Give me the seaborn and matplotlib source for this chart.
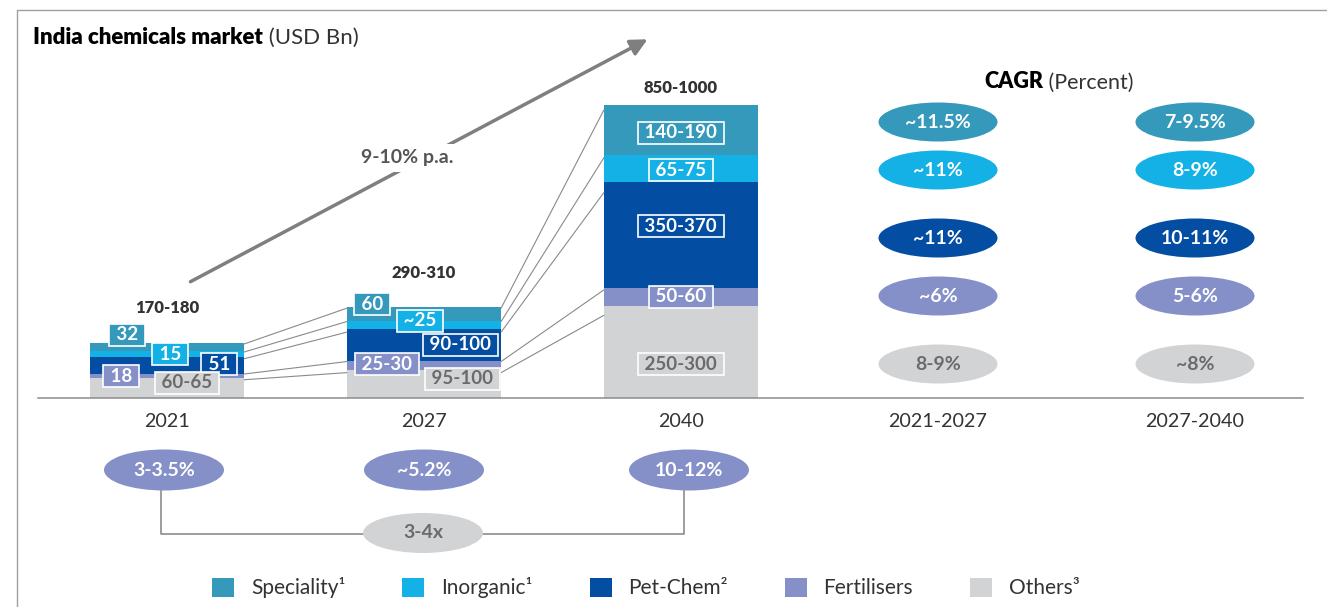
import pandas as pd
import matplotlib
matplotlib.use('Agg')
import matplotlib.pyplot as plt
import seaborn as sns
from matplotlib.patches import Ellipse, Patch

# data (USD Bn, segment heights)
years = ['2021', '2027', '2040']
periods = ['2021-2027', '2027-2040']
segments = ['Others', 'Fertilisers', 'Pet-Chem', 'Inorganic', 'Speciality']  # bottom -> top
others = [64, 89, 290]
fertilisers = [13, 29, 57]
petchem = [52, 100, 335]
inorganic = [18, 26, 85]
speciality = [26, 44, 158]
totals = ['170-180', '290-310', '850-1000']

speciality_lbl = ['32', '60', '140-190']
inorganic_lbl = ['15', '~25', '65-75']
petchem_lbl = ['51', '90-100', '350-370']
fertilisers_lbl = ['18', '25-30', '50-60']
others_lbl = ['60-65', '95-100', '250-300']

# CAGR rows: Speciality, Inorganic, Pet-Chem, Fertilisers, Others
cagr_21_27 = ['~11.5%', '~11%', '~11%', '~6%', '8-9%']
cagr_27_40 = ['7-9.5%', '8-9%', '10-11%', '5-6%', '~8%']
share_lbl = ['3-3.5%', '~5.2%', '10-12%']
multiple_lbl = '3-4x'
growth_lbl = '9-10% p.a.'
legend_lbl = ['Speciality¹', 'Inorganic¹', 'Pet-Chem²', 'Fertilisers', 'Others³']

colors = {'Speciality': '#3499ba', 'Inorganic': '#14b1e7', 'Pet-Chem': '#034ea2',
          'Fertilisers': '#8590c8', 'Others': '#d2d3d5'}
grey_txt = '#6b6b6b'

df = pd.DataFrame({'year': years, 'Others': others, 'Fertilisers': fertilisers,
                   'Pet-Chem': petchem, 'Inorganic': inorganic, 'Speciality': speciality})
cum = df[segments].cumsum(axis=1)
labels = {'Speciality': speciality_lbl, 'Inorganic': inorganic_lbl, 'Pet-Chem': petchem_lbl,
          'Fertilisers': fertilisers_lbl, 'Others': others_lbl}

sns.set_style('white')
plt.rcParams['font.family'] = ['Lato', 'DejaVu Sans']

W, H = 1327, 607
X0, DX = 167, 257      # pixel x of category 0, pixels per category
Y0, SC = 398, 0.3168   # pixel y of baseline, pixels per USD Bn


def px(x):
    return (x - X0) / DX


def py(y):
    return (Y0 - y) / SC


fig = plt.figure(figsize=(W / 100, H / 100), dpi=100)
ax = fig.add_axes([0, 0, 1, 1])

# stacked bars: draw cumulative heights from the top down
for seg in reversed(segments):
    sns.barplot(x=df['year'], y=cum[seg], order=years, color=colors[seg], width=0.6,
                saturation=1, linewidth=0, errorbar=None, ax=ax, zorder=1)

ax.set_xlim(px(0), px(W))
ax.set_ylim(py(H), py(0))
for s in ['top', 'left', 'right']:
    ax.spines[s].set_visible(False)
ax.spines['bottom'].set_position(('data', 0))
ax.spines['bottom'].set_bounds(px(38), px(1303))
ax.spines['bottom'].set_color('#8c8c8c')
ax.spines['bottom'].set_linewidth(1.1)
ax.set_xticks(range(5), years + periods)
ax.set_yticks([])
ax.tick_params(axis='x', length=0, pad=11, labelsize=14.2, labelcolor='#333333')
ax.set_xlabel('')
ax.set_ylabel('')

# connector lines between bars
for i in range(2):
    for seg in segments:
        h0 = df[seg][i]
        h1 = df[seg][i + 1]
        y0 = cum[seg][i] - 0.1 * h0
        y1 = cum[seg][i + 1] - 0.1 * h1
        ax.plot([i + 0.3, i + 0.7], [y0, y1], color='#8a8a8a', lw=0.8, zorder=2)

# totals
tot_y = [308, 273, 88]
for i, t in enumerate(totals):
    ax.text(i, py(tot_y[i]), t, ha='center', va='center', fontsize=12,
            fontweight='heavy', color='#333333')

# segment value boxes (pixel layout)
label_pos = {
    'Speciality': [(127, 335), (372, 304), (681, 133)],
    'Inorganic': [(170, 354), (420, 321), (681, 170)],
    'Pet-Chem': [(219, 364), (460, 345), (681, 226)],
    'Fertilisers': [(121, 376), (387, 364), (681, 297)],
    'Others': [(187, 383), (462, 379), (681, 364)],
}
for seg in ['Speciality', 'Inorganic', 'Pet-Chem', 'Fertilisers', 'Others']:
    for i in range(3):
        x, y = label_pos[seg][i]
        tc = grey_txt if seg == 'Others' else 'white'
        ax.text(px(x), py(y), ' ' + labels[seg][i] + ' ', ha='center', va='center',
                fontsize=13.5, fontweight='bold', color=tc, zorder=5,
                bbox=dict(boxstyle='square,pad=0.12', fc=colors[seg], ec='white', lw=1.2))

# growth arrow
ax.annotate('', xy=(px(650), py(38)), xytext=(px(188), py(283)),
            arrowprops=dict(arrowstyle='-|>', color='#7f7f7f', lw=2.5, mutation_scale=25),
            zorder=3)
ax.text(px(407), py(158), growth_lbl, ha='center', va='center', fontsize=14,
        fontweight='bold', color='#555555', zorder=4,
        bbox=dict(boxstyle='square,pad=0.3', fc='white', ec='none'))

# titles
t1 = ax.text(px(33), py(37), 'India chemicals market', ha='left', va='center',
             fontsize=16, fontweight='heavy', color='black')
ax.annotate(' (USD Bn)', xy=(1, 0), xycoords=t1, ha='left', va='bottom',
            fontsize=16, color='#333333')
t2 = ax.text(px(984), py(82), 'CAGR', ha='left', va='center',
             fontsize=15.5, fontweight='heavy', color='black')
ax.annotate(' (Percent)', xy=(1, 0), xycoords=t2, ha='left', va='bottom',
            fontsize=15.5, color='#333333')

# CAGR ellipses
row_y = [122, 170, 238, 296, 364]
row_seg = ['Speciality', 'Inorganic', 'Pet-Chem', 'Fertilisers', 'Others']
for j, col in enumerate([cagr_21_27, cagr_27_40]):
    for r, seg in enumerate(row_seg):
        ax.add_patch(Ellipse((3 + j, py(row_y[r])), 119 / DX, 39 / SC,
                             fc=colors[seg], ec='none', zorder=3))
        tc = grey_txt if seg == 'Others' else 'white'
        ax.text(3 + j, py(row_y[r]), col[r], ha='center', va='center', fontsize=14,
                fontweight='bold', color=tc, zorder=4)

# share ellipses and multiple
share_x = [164, 424, 689]
ax.plot([px(161), px(161), px(684), px(684)], [py(490), py(534), py(534), py(490)],
        color='#8c8c8c', lw=1.2, zorder=2)
for i, s in enumerate(share_lbl):
    ax.add_patch(Ellipse((px(share_x[i]), py(470)), 120 / DX, 41 / SC,
                         fc=colors['Fertilisers'], ec='none', zorder=3))
    ax.text(px(share_x[i]), py(470), s, ha='center', va='center', fontsize=14,
            fontweight='bold', color='white', zorder=4)
ax.add_patch(Ellipse((px(423), py(533)), 120 / DX, 40 / SC,
                     fc=colors['Others'], ec='none', zorder=3))
ax.text(px(423), py(533), multiple_lbl, ha='center', va='center', fontsize=14,
        fontweight='bold', color=grey_txt, zorder=4)

# frame
ax.plot([px(17), px(17), px(W)], [py(H), py(10), py(10)], color='#a0a0a0', lw=1,
        clip_on=False)

# legend
legend_seg = ['Speciality', 'Inorganic', 'Pet-Chem', 'Fertilisers', 'Others']
handles = [Patch(fc=colors[s], ec='none') for s in legend_seg]
fig.legend(handles, legend_lbl, ncol=5, loc='center',
           bbox_to_anchor=(646 / W, 1 - 588 / H), frameon=False, fontsize=15,
           handlelength=1.05, handleheight=1.05, handletextpad=0.8,
           columnspacing=2.75, labelcolor='#333333')

fig.savefig('out.png', dpi=100)
